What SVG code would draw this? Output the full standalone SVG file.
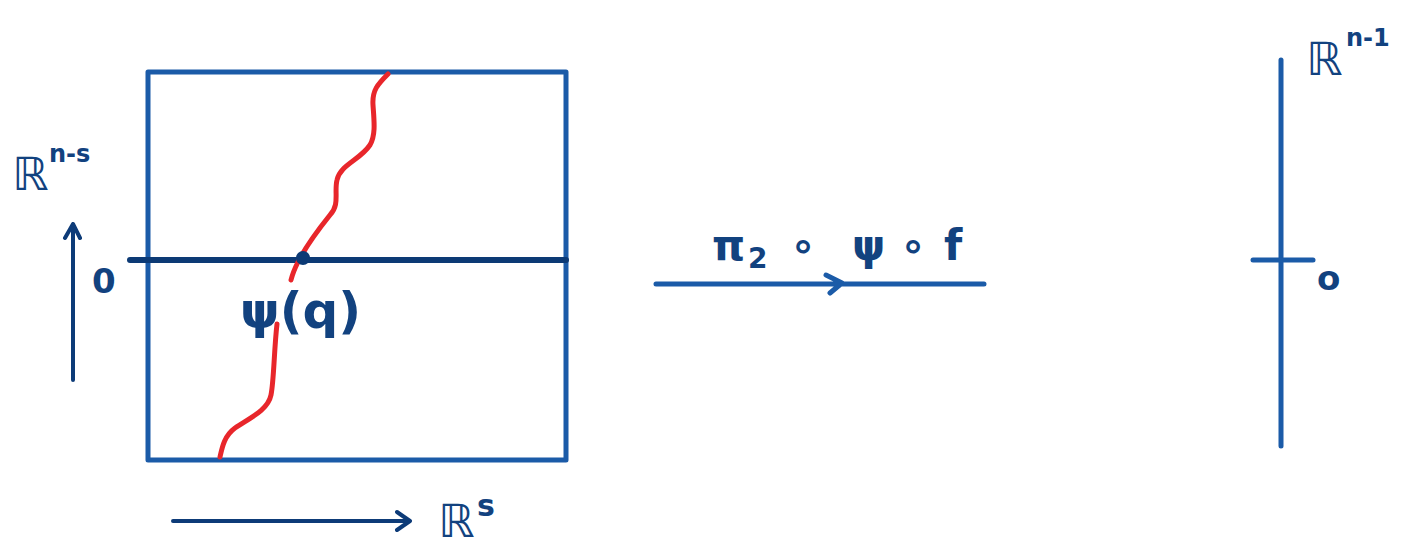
<svg xmlns="http://www.w3.org/2000/svg" width="1421" height="560" viewBox="0 0 1421 560">
<defs>
<style>
.bl{stroke:#1b5ba8;stroke-width:5;fill:none;stroke-linecap:round;stroke-linejoin:round}
.nv{stroke:#0d3b78;stroke-width:4;fill:none;stroke-linecap:round;stroke-linejoin:round}
.red{stroke:#e8262b;stroke-width:5;fill:none;stroke-linecap:round;stroke-linejoin:round}
.t{font-family:"DejaVu Sans","Liberation Sans",sans-serif;fill:#12427f}
</style>
</defs>
<rect width="1421" height="560" fill="#ffffff"/>
<g id="box">
<rect x="148" y="72" width="418" height="388" class="bl"/>
<line x1="130" y1="260" x2="566" y2="260" stroke="#0c3a75" stroke-width="6" stroke-linecap="round"/>
</g>
<g id="curve">
<path class="red" d="M388,74 C378,84 372,90 373,105 C374,120 376,135 370,145 C360,160 340,165 337,180 C334,192 340,205 330,215 C318,230 305,248 298,262 C294,270 292,276 291,280"/>
<path class="red" d="M277,324 C274,350 274,380 271,395 C268,410 250,418 235,428 C224,436 222,448 220,457"/>
<circle cx="303" cy="258" r="7" fill="#0c3a75"/>
</g>
<g id="labels-left">
<text class="t" x="12" y="190" font-size="46">ℝ</text>
<text class="t" x="49" y="162" font-size="24" font-weight="bold">n-s</text>
<text class="t" x="92" y="293" font-size="34" font-weight="bold">0</text>
<text class="t" x="240" y="328" font-size="50" font-weight="bold">ψ(q)</text>
<text class="t" x="438" y="537" font-size="46">ℝ</text>
<text class="t" x="477" y="516" font-size="30" font-weight="bold">s</text>
</g>
<g id="right-axis">
<line x1="1281" y1="60" x2="1281" y2="446" class="bl"/>
<line x1="1253" y1="260" x2="1313" y2="260" class="bl"/>
<text class="t" x="1317" y="290" font-size="34" font-weight="bold">o</text>
<text class="t" x="1306" y="75" font-size="46">ℝ</text>
<text class="t" x="1346" y="46" font-size="24" font-weight="bold">n-1</text>
</g>
<g id="connectors">
<path class="nv" d="M73,380 L73,224 M65,238 L73,224 L80,238"/>
<path class="nv" d="M173,521 L410,521 M397,512 L410,521 L397,530"/>
<path class="bl" d="M656,284 L984,284 M826,275 L842,283 L830,293"/>
<text class="t" y="260" font-size="42" font-weight="bold"><tspan x="712">π</tspan><tspan x="748" dy="8" font-size="28">2</tspan><tspan x="790" dy="-8">∘</tspan><tspan x="852">ψ</tspan><tspan x="900">∘</tspan><tspan x="944">f</tspan></text>
</g>
</svg>
